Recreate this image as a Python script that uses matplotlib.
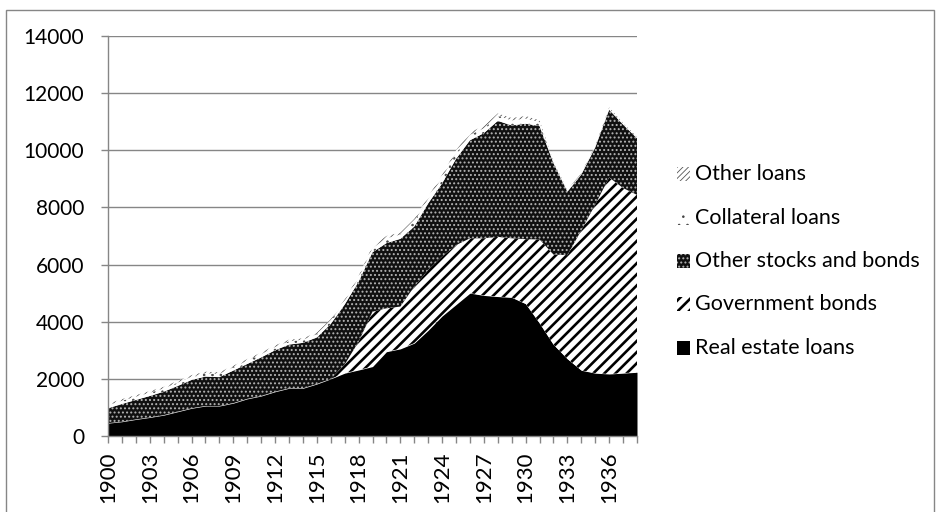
import matplotlib
matplotlib.use("Agg")
import matplotlib.pyplot as plt
from matplotlib.patches import Rectangle
import numpy as np

# ---------------- data ----------------
years = list(range(1900, 1939))

real_estate_loans = [450, 500, 580, 650, 730, 850, 970, 1050, 1050, 1150,
                     1300, 1400, 1550, 1670, 1670, 1820, 2000, 2200, 2310, 2430,
                     2950, 3050, 3250, 3700, 4200, 4600, 5000, 4920, 4880, 4850,
                     4630, 3950, 3200, 2700, 2300, 2200, 2170, 2200, 2230]

government_bonds = [0, 0, 0, 0, 0, 0, 0, 0, 0, 0,
                    0, 0, 0, 0, 0, 0, 0, 300, 990, 1920,
                    1520, 1480, 1980, 2110, 2080, 2080, 1920, 2000, 2090, 2070,
                    2260, 2930, 3150, 3630, 4900, 5900, 6880, 6480, 6210]

other_stocks_bonds = [520, 620, 680, 750, 820, 900, 990, 1030, 1010, 1140,
                      1220, 1350, 1450, 1530, 1590, 1630, 1920, 2100, 2100, 2080,
                      2280, 2370, 2100, 2330, 2560, 3020, 3430, 3680, 4060, 3950,
                      4040, 3970, 3200, 2220, 1950, 2000, 2370, 2220, 1980]

collateral_loans = [110, 115, 115, 115, 115, 120, 115, 115, 115, 115,
                    115, 115, 115, 115, 110, 115, 115, 120, 135, 150,
                    170, 150, 180, 160, 200, 200, 190, 170, 175, 175,
                    180, 130, 30, 30, 30, 30, 40, 30, 25]

other_loans = [50, 55, 55, 55, 55, 60, 55, 55, 55, 55,
               55, 55, 55, 55, 50, 55, 55, 60, 65, 70,
               80, 70, 90, 80, 100, 100, 90, 80, 85, 85,
               90, 70, 30, 30, 30, 30, 40, 30, 25]

series_names = ["Real estate loans", "Government bonds", "Other stocks and bonds",
                "Collateral loans", "Other loans"]
series_values = [real_estate_loans, government_bonds, other_stocks_bonds,
                 collateral_loans, other_loans]

y_ticks = [0, 2000, 4000, 6000, 8000, 10000, 12000, 14000]
x_label_years = list(range(1900, 1937, 3))

# ---------------- style ----------------
plt.rcParams['font.family'] = ['Lato', 'DejaVu Sans']
GRAY = '#868686'

styles = [
    dict(facecolor='black', edgecolor='black', hatch=None, hlw=1.0),
    dict(facecolor='white', edgecolor='black', hatch='///', hlw=1.9),
    dict(facecolor='#101010', edgecolor='#b4b4b4', hatch='....', hlw=0.9),
    dict(facecolor='white', edgecolor='#444444', hatch='..', hlw=0.6),
    dict(facecolor='white', edgecolor='#555555', hatch='//////', hlw=0.6),
]

W, H = 942, 512
fig = plt.figure(figsize=(W / 100, H / 100), dpi=100)

# chart border (bottom edge falls outside the picture)
fig.patches.append(Rectangle((6 / W, -5 / H), 928 / W, (H - 10 + 5) / H,
                             transform=fig.transFigure, fill=False,
                             edgecolor=GRAY, linewidth=1.0))

ax_left, ax_right, ax_top, ax_bottom = 108, 637, 36, 436
ax = fig.add_axes([ax_left / W, 1 - ax_bottom / H,
                   (ax_right - ax_left) / W, (ax_bottom - ax_top) / H])


def apply_hatch(artist, st):
    if st['hatch']:
        artist.set_hatch(st['hatch'])
        if hasattr(artist, 'set_hatch_linewidth'):
            artist.set_hatch_linewidth(st['hlw'])


x = np.array(years)
base = np.zeros(len(years))
for vals, st in zip(series_values, styles):
    top = base + np.array(vals, dtype=float)
    with plt.rc_context({'hatch.linewidth': st['hlw']}):
        pc = ax.fill_between(x, base, top, facecolor=st['facecolor'],
                             edgecolor=st['edgecolor'], linewidth=0, zorder=2)
        apply_hatch(pc, st)
    base = top

ax.set_xlim(1900, 1938)
ax.set_ylim(0, 14000)
ax.set_yticks(y_ticks)
ax.set_yticklabels([str(v) for v in y_ticks], fontsize=15, color='black')
ax.set_xticks(years)
ax.set_xticklabels([str(y) if y in x_label_years else '' for y in years],
                   rotation=90, fontsize=16, color='black')

ax.grid(axis='y', color=GRAY, linewidth=1.0, zorder=0)
ax.set_axisbelow(True)
for s in ['top', 'right']:
    ax.spines[s].set_visible(False)
for s in ['left', 'bottom']:
    ax.spines[s].set_color(GRAY)
    ax.spines[s].set_linewidth(1.0)
    ax.spines[s].set_zorder(3)
ax.tick_params(axis='y', length=5, width=1.0, color=GRAY, pad=12)
ax.tick_params(axis='x', length=5, width=1.0, color=GRAY, pad=6)
ax.set_facecolor('none')

# ---------------- legend (manual, top to bottom) ----------------
legend_y = [174, 218, 261, 304, 348]
order = [4, 3, 2, 1, 0]
for yy, idx in zip(legend_y, order):
    st = styles[idx]
    with plt.rc_context({'hatch.linewidth': st['hlw']}):
        r = Rectangle((677 / W, 1 - (yy + 7) / H), 13 / W, 14 / H,
                      transform=fig.transFigure, facecolor=st['facecolor'],
                      edgecolor=st['edgecolor'], linewidth=0)
        apply_hatch(r, st)
    fig.patches.append(r)
    fig.text(695 / W, 1 - yy / H, series_names[idx], fontsize=15.5,
             va='center', ha='left', color='black')

fig.savefig('out.png', dpi=100, facecolor='white')
